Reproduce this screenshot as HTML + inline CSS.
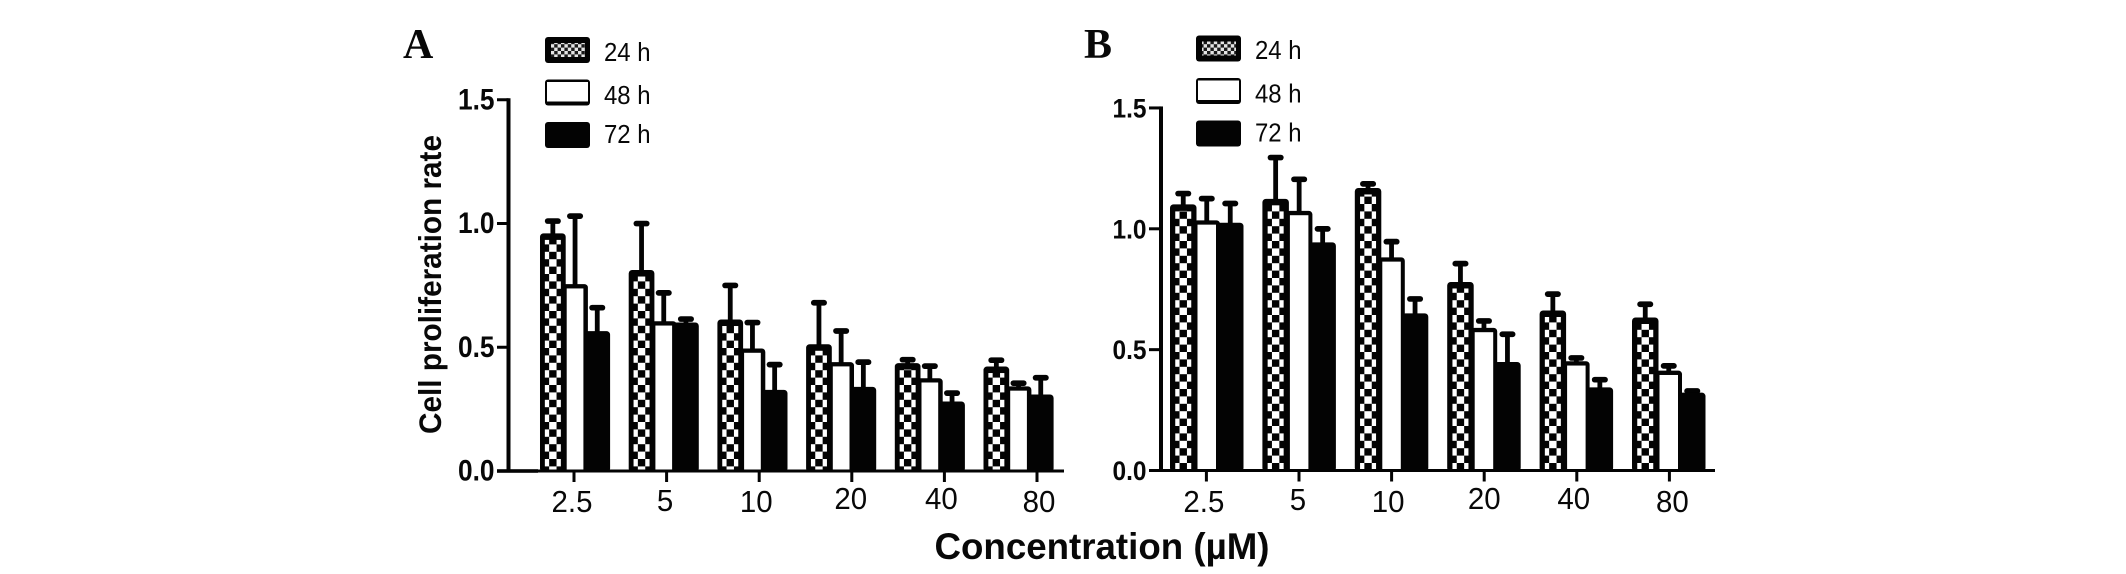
<!DOCTYPE html>
<html lang="en">
<head>
<meta charset="utf-8">
<title>Cell proliferation rate</title>
<style>
html,body{margin:0;padding:0;background:#fff;width:2126px;height:574px;overflow:hidden}
svg{display:block}
text{font-family:"Liberation Sans",sans-serif;fill:#080808}
</style>
</head>
<body>
<svg id="chart" xmlns="http://www.w3.org/2000/svg" width="2126" height="574" viewBox="0 0 2126 574">
  <defs>
    <pattern id="checker-a" patternUnits="userSpaceOnUse" x="-3.7" y="459" width="14.8" height="14.8">
      <rect width="14.8" height="14.8" fill="#fff"/>
      <rect width="7.4" height="7.4" fill="#030303"/>
      <rect x="7.4" y="7.4" width="7.4" height="7.4" fill="#030303"/>
    </pattern>
    <pattern id="checker-b" patternUnits="userSpaceOnUse" x="-3.7" y="463" width="14.8" height="14.8">
      <rect width="14.8" height="14.8" fill="#fff"/>
      <rect width="7.4" height="7.4" fill="#030303"/>
      <rect x="7.4" y="7.4" width="7.4" height="7.4" fill="#030303"/>
    </pattern>
    <pattern id="checker-legend" patternUnits="userSpaceOnUse" width="6.8" height="6.8">
      <rect width="6.8" height="6.8" fill="#e4e4e4"/>
      <rect width="3.4" height="3.4" fill="#1a1a1a"/>
      <rect x="3.4" y="3.4" width="3.4" height="3.4" fill="#1a1a1a"/>
    </pattern>
  </defs>
  <text x="403" y="58" style="font-family:'Liberation Serif',serif;font-weight:bold;font-size:42px">A</text>
  <text x="1084" y="58" style="font-family:'Liberation Serif',serif;font-weight:bold;font-size:42px">B</text>
  <text transform="translate(441,284.5) rotate(-90)" text-anchor="middle" textLength="299" lengthAdjust="spacingAndGlyphs" style="font-weight:bold;font-size:31.5px">Cell proliferation rate</text>
  <text x="934.5" y="559" textLength="335" lengthAdjust="spacingAndGlyphs" style="font-weight:bold;font-size:37px">Concentration (µM)</text>
</svg>
<script>
const categories = ['2.5', '5', '10', '20', '40', '80'];
const seriesNames = ['24 h', '48 h', '72 h'];
const yTickValues = [0, 0.5, 1, 1.5];
const yTickLabels = ['0.0', '0.5', '1.0', '1.5'];

const panelA24 = [0.960, 0.812, 0.612, 0.512, 0.436, 0.422];
const panelA48 = [0.755, 0.605, 0.495, 0.440, 0.375, 0.342];
const panelA72 = [0.565, 0.600, 0.328, 0.340, 0.281, 0.309];
const panelA24Upper = [1.010, 1.000, 0.750, 0.680, 0.450, 0.448];
const panelA48Upper = [1.030, 0.720, 0.600, 0.566, 0.424, 0.355];
const panelA72Upper = [0.660, 0.614, 0.430, 0.440, 0.315, 0.377];

const panelB24 = [1.101, 1.124, 1.169, 0.780, 0.662, 0.633];
const panelB48 = [1.035, 1.074, 0.882, 0.590, 0.452, 0.413];
const panelB72 = [1.025, 0.944, 0.650, 0.449, 0.344, 0.322];
const panelB24Upper = [1.146, 1.295, 1.186, 0.856, 0.730, 0.688];
const panelB48Upper = [1.125, 1.205, 0.947, 0.619, 0.466, 0.433];
const panelB72Upper = [1.105, 1.000, 0.710, 0.564, 0.376, 0.329];

const INK = '#030303';
const NS = 'http://www.w3.org/2000/svg';
const svg = document.getElementById('chart');

function shape(parent, tag, attrs) {
  const el = document.createElementNS(NS, tag);
  for (const k in attrs) el.setAttribute(k, attrs[k]);
  parent.appendChild(el);
  return el;
}

function squeeze(textEl, factor) {
  textEl.setAttribute('textLength', textEl.getComputedTextLength() * factor);
  textEl.setAttribute('lengthAdjust', 'spacingAndGlyphs');
}

function drawPanel(p) {
  const yScale = v => p.y0 - v * p.unit;
  const barX = (g, s) => p.barStart + g * p.barPeriod + s * p.barStep;
  const tickX = g => p.tickStart + g * p.tickPeriod;

  const root = shape(svg, 'g', {});
  
  

  // bars and error bars
  p.means.forEach((vals, s) => {
    const uppers = p.uppers[s];
    vals.forEach((v, g) => {
      const x = barX(g, s);
      const cx = x + p.barW / 2;
      const top = yScale(v);
      const upper = yScale(uppers[g]);

      const err = shape(root, 'g', {});
      
      
      shape(err, 'rect', {x: cx - 2.4, y: upper, width: 4.8, height: top - upper + 3, fill: INK});
      shape(err, 'rect', {x: cx - 8, y: upper - 2.8, width: 16, height: 5.7, rx: 2.8, fill: INK});

      const bar = shape(root, 'g', {transform: 'translate(' + cx + ',0)'});
      
      
      const hw = p.barW / 2;
      shape(bar, 'rect', {x: -hw, y: top, width: p.barW, height: p.y0 - top + 1, rx: 3.5, fill: INK});
      if (s === 0) {
        shape(bar, 'rect', {x: -8, y: top + 6.5, width: 16, height: Math.max(0, p.y0 - top - 6.5), fill: 'url(#' + p.checker + ')'});
      } else if (s === 1) {
        shape(bar, 'rect', {x: -hw + p.wall, y: top + 4.3, width: p.barW - 2 * p.wall, height: Math.max(0, p.y0 - top - 4.3), fill: '#fff'});
      }
    });
  });

  // axes
  const axes = shape(root, 'g', {fill: INK});
  
  
  shape(axes, 'rect', {x: p.axisX - 2, y: yScale(1.5) - 1.5, width: 4, height: p.y0 - yScale(1.5) + 1.5});
  shape(axes, 'rect', {x: p.axisLeft, y: p.y0 - 1.5, width: p.axisRight - p.axisLeft, height: 3});
  if (p.axisThick > 0) {
    shape(axes, 'rect', {x: p.axisLeft, y: p.y0 - 1.8, width: p.axisThick, height: 3.6});
  }

  yTickValues.forEach((v, i) => {
    const y = yScale(v);
    const tick = shape(root, 'rect', {x: p.axisLeft, y: y - 1.5, width: p.axisX - p.axisLeft, height: 3, fill: INK});
    
    
    const label = shape(root, 'text', {x: p.axisLeft - 2.5, y: y + 9.5, 'text-anchor': 'end', textLength: p.yLabelW, lengthAdjust: 'spacingAndGlyphs', style: 'font-weight:bold;font-size:' + p.yLabelSize + 'px'});
    label.textContent = yTickLabels[i];
    
    
  });

  categories.forEach((c, g) => {
    const x = tickX(g);
    const tick = shape(root, 'rect', {x: x - 1.5, y: p.y0, width: 3, height: 11, fill: INK});
    
    
    const label = shape(root, 'text', {x: x + p.labelNudgeX[g], y: p.labelBase[g], 'text-anchor': 'middle', style: 'font-size:31px'});
    label.textContent = c;
    
    
    squeeze(label, 0.95);
  });

  // legend
  seriesNames.forEach((name, s) => {
    const top = p.legendTop[s];
    const entry = shape(root, 'g', {});
    
    
    shape(entry, 'rect', {x: p.legendX, y: top, width: 45, height: 26, rx: 3, fill: INK});
    if (s === 0) {
      shape(entry, 'rect', {x: p.legendX + 6, y: top + 6, width: 34, height: 14, fill: 'url(#checker-legend)'});
    } else if (s === 1) {
      shape(entry, 'rect', {x: p.legendX + 2, y: top + 2.5, width: 41, height: 19.5, fill: '#fff'});
    }
    const t = shape(entry, 'text', {x: p.legendTextX, y: p.legendBase[s], style: 'font-size:26px'});
    t.textContent = name;
    squeeze(t, 0.92);
  });
}

drawPanel({
  id: 'a', checker: 'checker-a',
  means: [panelA24, panelA48, panelA72],
  uppers: [panelA24Upper, panelA48Upper, panelA72Upper],
  y0: 471, unit: 247.5,
  barStart: 540, barPeriod: 88.7, barW: 25.7, barStep: 22.2, wall: 4.5,
  tickStart: 574, tickPeriod: 92.6,
  axisX: 508.5, axisLeft: 497, axisRight: 1064, axisThick: 41,
  yLabelW: 36.5, yLabelSize: 29.5,
  labelNudgeX: [-2, -1.5, -3, -1, -3, 2],
  labelBase: [512, 511, 512, 509, 509, 512],
  legendX: 545, legendTop: [37, 79.5, 122], legendBase: [61, 104, 143], legendTextX: 604
});

drawPanel({
  id: 'b', checker: 'checker-b',
  means: [panelB24, panelB48, panelB72],
  uppers: [panelB24Upper, panelB48Upper, panelB72Upper],
  y0: 470.5, unit: 241.7,
  barStart: 1170, barPeriod: 92.4, barW: 26.5, barStep: 23.5, wall: 4,
  tickStart: 1206.4, tickPeriod: 92.6,
  axisX: 1161, axisLeft: 1149, axisRight: 1715, axisThick: 0,
  yLabelW: 34, yLabelSize: 27,
  labelNudgeX: [-2.5, -1, -3.5, 0, -3, 3],
  labelBase: [512, 510, 512, 509, 509, 512],
  legendX: 1196, legendTop: [35.5, 78, 120.5], legendBase: [59, 102.7, 141.7], legendTextX: 1255
});
</script>
</body>
</html>
